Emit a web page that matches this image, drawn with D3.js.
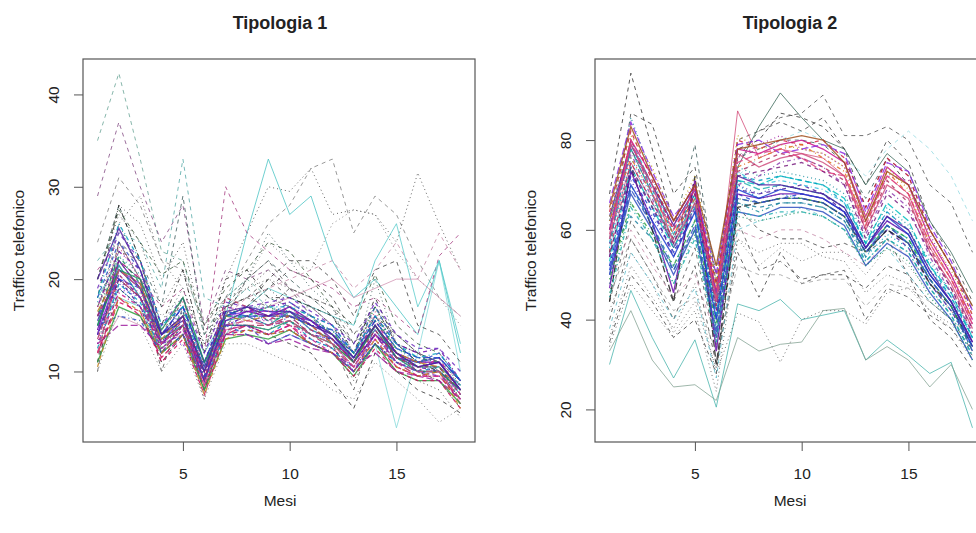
<!DOCTYPE html>
<html><head><meta charset="utf-8">
<script src="https://cdn.jsdelivr.net/npm/d3@7/dist/d3.min.js"></script>
<style>html,body{margin:0;padding:0;background:#fff;}svg{display:block;font-family:"Liberation Sans",Arial,Helvetica,sans-serif;}</style>
</head><body>
<svg id="chart" width="976" height="533"></svg>
<script>
// ---------------- DATA ----------------
const mesi = [1,2,3,4,5,6,7,8,9,10,11,12,13,14,15,16,17,18];
const titles = ["Tipologia 1", "Tipologia 2"];
const xLabel = "Mesi";
const yLabel = "Traffico telefonico";
const xTicks = [5, 10, 15];
const yTicks1 = [10, 20, 30, 40];
const yTicks2 = [20, 40, 60, 80];

// Tipologia 1 — far-off series
const t1Outliers = [
  [35,42.3,33,23,22,14,18,20,18,17,16,14,12,15,12,11,10,8],
  [29,37,30,24,28,15,21,20,21,19,17,15,12,16,13,12,11,9],
  [24,31,28,22,21,15,18,22,26,28,32,33,25,29,27,22,18,16],
  [20,28,26,20,24,14,20,25,30,29.5,32,27,27.5,27,24,31.5,26,21],
  [18,22,20,14,17,12,16,25,33,27,29,22,18,20,17,14,22,12],
  [21,24,20,17,19,12,30,25,23,21,20,19,17,18,16,14,22.5,25],
  [22,25,24,19,33,18,17,19,17,16,15,14,12,15,13,11,11,8],
  [20,28,22,17,29,14,17,20,22,20,18,16,13,17,14,12,11,9],
  [16,22,20,16,18,13,16,20,24,22,21,26,27.5,27,23,20,18,15],
  [14,19,17,12,14,9,14,15,13,14,13,12,10,13,3.9,12,22,10],
  [17,22,19,14,17,11,16,18,19,20,21,22,19,21,24,20,25,21],
  [14,20,18,14,16,10,15,17,20,22,22,20,16,21,22,15,14,11],
  [16,26,29,22,19,13,17,19,20,19,18,17,14,16,14,12,11,8],
  [20,27.5,24,20.5,22,15,19,21,24,23,20,17,15,20.5,15,13,12,9],
  [15,18,17,14,15,10,14,17,19,18,17,16,15,22,26,17,22,13],
  [12,16,15,13,14,11,14,16,17,18,19,20,18,19,20,20,18,16],
  [11,19,17,11,14,8,15,15,14,13,12,9,6,12,10,8,7,5.5],
  [10,17,15,10,13,7,13,13,12,11,10,8,7,11,9,7,4.5,6]
];
// Tipologia 1 — middle series
const t1Middle = [
  [20,27,24,17,21,12,18,19,21,19,18,16,13,17,13,12,11,8],
  [11,24,22,13,18,10,17,18,20,18,17,15,11,16,12,11,10,7],
  [15,26,21,15,19,13,18,20,25,22,19,17,11,20,13,12,10,7.5],
  [10,22,20,10,17,11,16,20,22,19,16,13,8,15,12,10,9,6],
  [18,28,22,15,21,12,20,21,18,18,17,16,12,18,13,11,11,8],
  [12,20,18,11,14,7,17,18,19,17,15,13,9,13,10,9,8,5],
  [14,24,20,12,16,9,16,17,19,21,20,18,14,17,13,11,10,8],
  [13,21,19,12,15,8,15,16,18,17,17,16,12,14,12,10,9,7],
  [17,23,22,14,18,11,17,18,17,19,18,17,13,16,14,12,10,8]
];
// Tipologia 1 — main bundle
const t1Core = [
  [14,21,19.5,13,16,9,16,16.5,16.5,16,15.5,14,11,15,12,11,11,8],
  [16,22,20,14,16,10,16,17,15.5,17,15,13,11.5,15.5,12,10,11.5,7.5],
  [13,19,17,12,15,8,15,15,14.5,16,14,13.5,10,14,11.5,10,10,7],
  [17,23,21,14,17,11,17,16.5,17,17.5,16,15,12,16,13,12,12.5,9],
  [12,18,16,11.5,14,8.5,14,15,14,15,13,12,10,13,10.5,9.5,9.5,7],
  [15,21.5,18,13.5,15,9,15.5,16,15,16.5,14.5,13.5,11.5,14.5,11.5,10.5,10.5,8.5],
  [18,24,21,15,17,11,16,16,16,17.5,16,14,12,17,13,11,12,9],
  [14.5,20,18.5,12.5,14.5,10,15,15.5,15.5,15,14,13,10.5,13.5,11,10,10,7.5],
  [16,22.5,19.5,13,16.5,9.5,16.5,16.5,15.5,16,15,14.5,11,15.5,12.5,11.5,11,8],
  [13.5,20,18,12,15,8,14.5,15,15,16,14,12.5,10.5,14,11,9.5,10,6.5],
  [15.5,21,19,14,15.5,10.5,16,17,16.5,16.5,15.5,14,11.5,15,11.5,11,11.5,9],
  [12.5,19.5,17.5,12,14,9,14,14.5,14,15.5,13.5,12.5,10,13,11,10,10.5,7.5],
  [17,23.5,20,14.5,17.5,10,17,16.5,16.5,17,15.5,14,12,16.5,12,11,11,8.5],
  [14,20,17,13,16,9.5,15,16,15,15.5,14,13.5,11,14,11.5,10.5,10,8],
  [16.5,21,19.5,13.5,16,10,16,15.5,16,16,15,13,11,15,12,11,10.5,8],
  [11,17,16,12,14,8,13.5,14,13.5,14.5,13,12,9.5,13,10,9,9,6.5],
  [19,25,22,15,18,12,17.5,17,17.5,18,16.5,15,13,17.5,14,12.5,12.5,10],
  [15,19,18,12.5,13,8.5,15,16,15.5,16.5,14.5,13,10.5,14.5,11,10.5,10,8],
  [13,18.5,17,13,15,10,14.5,15,14,15,13.5,12,10,13.5,10.5,9.5,9.5,7],
  [16,20,19,14,17,11,16.5,16,16,16,15,14.5,12,15.5,12.5,11.5,11.5,9],
  [14.5,22,19,13,15,9,15.5,16.5,16,17,15.5,13.5,11,14,12,10.5,11,8],
  [12,17.5,16.5,11,13.5,7.5,14,14.5,14,14.5,13,12,9.5,12.5,10,9,9,6],
  [17.5,22.5,20.5,14,16,10.5,16,17,17,16.5,15.5,14.5,11.5,16,12.5,11,11.5,8.5],
  [15,16,15.5,12,14,9.5,15,14,13,14,13,12,10,13,11,10,10,8],
  [13,15,15,12.5,14.5,10,14,14,13,13.5,12.5,12,10.5,12,10,9.5,9,7],
  [15,21,20,14.5,18,11,15,15,14.5,15.5,14,13,11,15,11.5,10,10,8],
  [16,20.5,18,13,15.5,9,18,17,16,15,14.5,13.5,11,14.5,11.5,10.5,10.5,7.5],
  [14,19.5,18,14,16.5,10.5,15,15,14,14.5,13.5,12.5,10,13,11,10,10,8.5],
  [18,26,22,15,17,10,16,16,17,17,16,15,12,16,13,11.5,12,9],
  [12,21,19,13,15,8.5,15,15.5,15,15.5,14,13,10.5,14,11,10,10,7],
  [20,25.5,21,14,16,10,16.5,17,16,16.5,15,14,11.5,15,12,10.5,11,8],
  [10.5,18,16.5,12,14,7.5,13.5,14.5,14,14.5,13,12,10,13.5,10.5,9.5,10,6],
  [15,22,19,12.5,15,8,16,16,17,16,16,14,12,17,12,10.5,10.5,7],
  [14,20.5,18,13,14,9,15,15,13,14,13,12,10,14,11,10,9.5,8]
];

// Tipologia 2 — far-off series
const t2Outliers = [
  [68,94.9,78,62,70,45,78,80,86,85,83,78,65,76,70,60,52,42],
  [55,86,83.5,68,74,50,80,82,84,82,85,78,70,80,75,62,54,44],
  [60,78,70,60,79,48,76,78,80,80,79,75,67,76,72,60,52,43],
  [58,75,66,58,68,45,86.5,76,78,77,76,72,62,72,68,56,49,39],
  [62,78,68,56,66,44,74,83,90.5,85,80,78,70,77,73,62,55,46],
  [60,80,70,62,70,48,76,82,85,86,90,81,81,83,80,70,66,55],
  [56,74,66,58,66,44,72,76,80,82,80,76,72,78,82,78,72,62],
  [30,46.5,36,27,35.5,20.5,43.5,42,44.5,40,41,42,31,35.5,32,28,30.5,15.9],
  [33,42,31,25,25.5,22,36,33,34.5,35,42,42.5,31,34,31,25,30,20],
  [36,52,45,38,48,28,41.5,39.5,30.5,40,42,42,39,46,47,42,38,31],
  [40,58,50,40,52,30,55,45,55,48,50,50,47,52,50,44,40,33],
  [42,55,48,37,44,29,58,52,56,53,55,55,50,56,52,46,42,36],
  [44,62,54,44,56,34,62,51,53,49,50,51,40,47,45,41,38,32],
  [48,60,52,45,50,36,60,58,60,60,58,55,52,58,54,48,42,35],
  [35,50,44,36,40,28,65,60,58,58,56,57,55,58,50,40,36,29],
  [38,55,48,40,47,27,60,62,63,65,63,60,52,56,50,44,40,31],
  [45,58,50,42,45,33,52,50,50,48,49,49,43,48,47,44,40,36],
  [34,48,42,36,42,24,58,55,57,57,54,53,46,50,48,42,39,33]
];
// Tipologia 2 — main bundle, upper group
const t2CoreUpper = [
  [60,80,72,62,70,46,78,77,79,80,78,75,63,74,70,58,50,40],
  [64,82,71,60,68,48,80,78,80,79,80,76,65,76,72,60,52,41],
  [57,78,69,61,71,44,76,79,81,78,77,74,62,72,71,59,50,39],
  [62,76,68,59,67,47,74,76,78,79,76,73,61,73,68,57,49,40],
  [66,84,73,63,69,50,79,80,77,78,79,77,64,75,73,61,53,42],
  [59,79,70,57,66,45,77,74,76,77,75,72,60,70,67,55,48,38],
  [55,75,66,58,70,43,73,75,77,76,74,71,60,71,66,56,47,37],
  [63,81,74,62,72,49,81,78,79,78,77,74,63,74,69,58,51,41],
  [61,77,67,56,65,46,70,72,75,76,74,70,59,69,65,54,46,37],
  [58,80,68,60,69,44,75,77,78,76,73,72,61,72,68,57,49,39],
  [65,83,72,62,70,52,78,79,80,81,80,75,62,73,70,60,52,43],
  [54,74,65,57,68,42,72,73,74,75,73,70,58,68,64,55,47,38]
];
// Tipologia 2 — main bundle, lower group
const t2CoreLower = [
  [52,72,64,55,64,40,68,66,67,68,67,64,55,60,57,49,43,34],
  [56,76,66,56,66,42,70,67,68,67,66,63,54,59,56,48,42,33],
  [48,70,61,52,62,38,66,64,66,66,65,62,53,58,55,47,41,32],
  [58,78,68,57,67,43,71,69,70,69,68,65,56,61,58,50,44,35],
  [50,68,60,50,60,36,64,63,65,65,64,61,52,57,54,46,40,31],
  [54,73,65,54,65,41,69,68,69,70,68,64,55,60,56,48,42,34],
  [46,66,58,48,59,35,63,62,63,64,63,60,52,56,53,45,40,31],
  [60,80,70,59,69,45,73,70,71,70,69,66,57,62,59,51,45,36],
  [44,74,60,44,72,30,65,66,67,67,66,63,55,60,57,48,43,34],
  [47,73,62,46,71,33,68,67,68,68,67,64,56,62,59,50,44,35],
  [55,63,58,51,60,38,66,65,66,66,65,62,54,61,57,49,43,34],
  [52,71,63,55,66,42,70,68,70,69,68,65,56,64,60,51,45,35],
  [49,66,59,52,62,39,67,66,67,67,66,63,55,61,58,49,43,33],
  [53,74,65,56,65,41,71,70,72,71,70,67,57,66,62,52,46,36],
  [51,70,62,54,64,40,69,67,69,68,67,64,56,63,59,50,44,34],
  [57,79,69,59,68,45,72,71,72,71,70,66,57,64,60,52,45,36],
  [62,85,72,58,68,52,74,72,73,72,71,68,58,65,61,53,46,37],
  [45,65,58,48,58,35,64,63,64,64,63,60,53,58,55,47,41,32],
  [50,69,61,51,61,37,67,66,67,67,66,63,55,61,57,49,43,33],
  [63,79,70,61,69,46,72,70,70,69,68,65,56,63,60,51,44,35]
];

// ---------------- STYLE ----------------
const t1OutlierColors = ["#5f9e8f","#7b3f7b","#777777","#333333","#40c0c0","#a0307a","#4aa3a0","#2f4f4f","#666666","#7fd8d8","#c080a0","#333333","#444444","#2f4f2f","#50c8c8","#d090b0","#222222","#555555"];
const t1OutlierDashes = ["4,4","4,4","4,4","1,3","","4,4","4,4","4,4","1,3","","4,4","4,4","1,3","4,4","","","4,4","1,3"];
const t2OutlierColors = ["#222222","#333333","#2f4f4f","#d04070","#2f5f4f","#444444","#8fd8e0","#40b0a8","#7f9f8f","#444444","#333333","#555555","#444444","#c080a0","#333333","#50b8c8","#999999","#444444"];
const t2OutlierDashes = ["4,4","4,4","4,4","","","4,4","4,4","","","1,3","4,4","1,3","4,4","4,4","4,4","4,4","4,4","1,3"];
const midColors = ["#333333","#444444","#2f4f4f","#555555","#222222"];
const midDashes = ["1,3","4,4","1,3","4,4","1,3,4,3"];
const coreColors1 = ["#8a2be2","#c8148c","#2040d0","#6a0dad","#d01060","#1e90a0","#3050c0","#a020a0","#209060","#b03060","#4030b0","#00a0c0","#d05080","#5020a0","#c08020","#30a040","#7030c0"];
const warmColors = ["#c8148c","#d02040","#a020a0","#e07020","#8a2be2","#d05080","#b03060","#c0a020","#9040b0","#e04080","#a05020","#7a2080"];
const coolColors = ["#2040d0","#00a0c0","#1e90a0","#20b0b0","#3050c0","#5020a0","#209060","#40c0e0","#222222","#6a0dad","#2080a0","#4030b0","#30a040","#00c0c0"];
const ltys = ["", "4,4", "1,3", "1,3,4,3", "7,3"];

const svg = d3.select("#chart");

function drawPanel(cfg) {
  const {left, right, top, bottom} = cfg.box;
  const all = cfg.groups.flatMap(g => g.series);
  const ext = d3.extent(all.flat());
  const pad = (ext[1] - ext[0]) * 0.04;
  const xPad = (d3.max(mesi) - d3.min(mesi)) * 0.04;
  const x = d3.scaleLinear().domain([d3.min(mesi) - xPad, d3.max(mesi) + xPad]).range([left, right]);
  const y = d3.scaleLinear().domain([ext[0] - pad, ext[1] + pad]).range([bottom, top]);
  const g = svg.append("g");
  const clipId = "clip" + cfg.title.replace(/\W/g, "");
  g.append("clipPath").attr("id", clipId).append("rect")
    .attr("x", left).attr("y", top).attr("width", right - left).attr("height", bottom - top);
  const lines = g.append("g").attr("clip-path", `url(#${clipId})`);
  const line = d3.line().x((d, i) => x(mesi[i])).y(d => y(d));
  cfg.groups.forEach(grp => {
    grp.series.forEach((s, i) => {
      lines.append("path").attr("d", line(s)).attr("fill", "none")
        .attr("stroke", grp.colors[i % grp.colors.length])
        .attr("stroke-width", grp.width)
        .attr("stroke-opacity", grp.opacity)
        .attr("stroke-dasharray", grp.dashes[(i + grp.dashOffset) % grp.dashes.length]);
    });
  });
  // box
  g.append("rect").attr("x", left).attr("y", top).attr("width", right - left).attr("height", bottom - top)
    .attr("fill", "none").attr("stroke", "#555").attr("stroke-width", 1.2);
  // x axis
  const xa = g.append("g").attr("transform", `translate(0,${bottom})`)
    .call(d3.axisBottom(x).tickValues(xTicks).tickSize(9).tickPadding(17).tickSizeOuter(0));
  xa.select(".domain").remove();
  xa.selectAll("line").attr("stroke", "#555");
  xa.selectAll("text").attr("font-size", 15.5).attr("fill", "#222");
  // y axis
  const ya = g.append("g").attr("transform", `translate(${left},0)`)
    .call(d3.axisLeft(y).tickValues(cfg.yTicks).tickSize(9).tickSizeOuter(0));
  ya.select(".domain").remove();
  ya.selectAll("line").attr("stroke", "#555");
  ya.selectAll("text").attr("font-size", 15.5).attr("fill", "#222")
    .attr("text-anchor", "middle").attr("dy", 0).attr("x", 0)
    .attr("transform", `translate(-24,0) rotate(-90)`);
  // titles and labels
  g.append("text").attr("x", cfg.titleX).attr("y", 29).attr("text-anchor", "middle")
    .attr("font-size", 18).attr("font-weight", "bold").attr("fill", "#222").text(cfg.title);
  g.append("text").attr("x", cfg.titleX).attr("y", 506).attr("text-anchor", "middle")
    .attr("font-size", 15.5).attr("fill", "#222").text(xLabel);
  g.append("text").attr("transform", `translate(${left - 59},${(top + bottom) / 2}) rotate(-90)`)
    .attr("text-anchor", "middle").attr("font-size", 15.5).attr("fill", "#222").text(yLabel);
}

drawPanel({
  title: titles[0], titleX: 280, yTicks: yTicks1,
  box: {left: 83, right: 475, top: 59, bottom: 442},
  groups: [
    {series: t1Outliers, colors: t1OutlierColors, dashes: t1OutlierDashes, dashOffset: 0, width: 1, opacity: 0.75},
    {series: t1Middle, colors: midColors, dashes: midDashes, dashOffset: 0, width: 1, opacity: 0.8},
    {series: t1Core, colors: coreColors1, dashes: ltys, dashOffset: 0, width: 1.3, opacity: 0.85}
  ]
});
drawPanel({
  title: titles[1], titleX: 790, yTicks: yTicks2,
  box: {left: 595, right: 987, top: 59, bottom: 442},
  groups: [
    {series: t2Outliers, colors: t2OutlierColors, dashes: t2OutlierDashes, dashOffset: 0, width: 1, opacity: 0.75},
    {series: t2CoreLower, colors: coolColors, dashes: ltys, dashOffset: 1, width: 1.3, opacity: 0.85},
    {series: t2CoreUpper, colors: warmColors, dashes: ltys, dashOffset: 0, width: 1.3, opacity: 0.85}
  ]
});
</script>
</body></html>
